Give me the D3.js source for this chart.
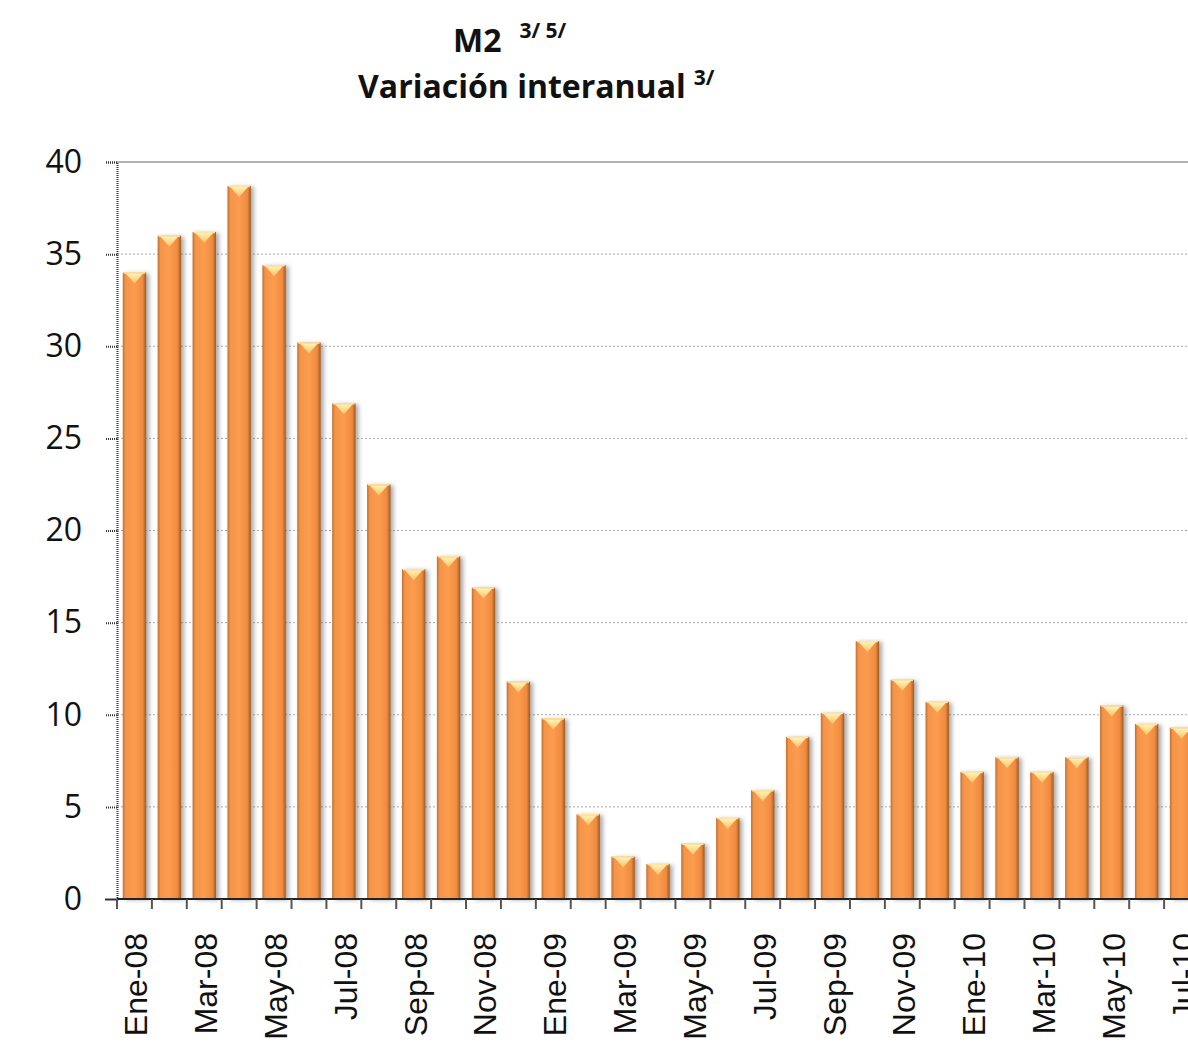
<!DOCTYPE html>
<html>
<head>
<meta charset="utf-8">
<script src="https://cdn.jsdelivr.net/npm/d3@7"></script>
<style>
  body { margin: 0; background: #fff; }
  text { font-family: "Open Sans", "DejaVu Sans", sans-serif; fill: #111; }
</style>
</head>
<body>
<script>
// Data

let months = ['Ene-08','Feb-08','Mar-08','Abr-08','May-08','Jun-08','Jul-08','Ago-08','Sep-08','Oct-08','Nov-08','Dic-08',
              'Ene-09','Feb-09','Mar-09','Abr-09','May-09','Jun-09','Jul-09','Ago-09','Sep-09','Oct-09','Nov-09','Dic-09',
              'Ene-10','Feb-10','Mar-10','Abr-10','May-10','Jun-10','Jul-10']

let values = [34.0, 36.0, 36.2, 38.7, 34.4, 30.2, 26.9, 22.5, 17.9, 18.6, 16.9, 11.8,
              9.8, 4.6, 2.3, 1.9, 3.0, 4.4, 5.9, 8.8, 10.1, 14.0, 11.9, 10.7,
              6.9, 7.7, 6.9, 7.7, 10.5, 9.5, 9.3]

let yTicks = [0, 5, 10, 15, 20, 25, 30, 35, 40]

// Every other month gets a label
let shownLabels = months.filter((m, i) => i % 2 === 0)

// Container sizing

let width = 1188
let height = 1047

let margin = {
    left: 117,
    top: 162,
    right: -11,
    bottom: 148
}

let chartWidth = width - margin.left - margin.right
let chartHeight = height - margin.top - margin.bottom

let svg = d3.select('body')
    .append('svg')
    .attr('width', width)
    .attr('height', height)

let defs = svg.append('defs')

let grad = defs.append('linearGradient')
    .attr('id', 'barGrad')
    .attr('x1', '0%').attr('x2', '100%')
    .attr('y1', '0%').attr('y2', '0%')
grad.append('stop').attr('offset', '0%').attr('stop-color', '#c0702c')
grad.append('stop').attr('offset', '12%').attr('stop-color', '#f5944a')
grad.append('stop').attr('offset', '50%').attr('stop-color', '#fb9c4e')
grad.append('stop').attr('offset', '85%').attr('stop-color', '#ef8b40')
grad.append('stop').attr('offset', '100%').attr('stop-color', '#a05a1d')

let capGrad = defs.append('linearGradient')
    .attr('id', 'capGrad')
    .attr('x1', '0%').attr('x2', '0%')
    .attr('y1', '0%').attr('y2', '100%')
capGrad.append('stop').attr('offset', '0%').attr('stop-color', '#fff3b8')
capGrad.append('stop').attr('offset', '100%').attr('stop-color', '#f9c062')

let shadow = defs.append('filter')
    .attr('id', 'shadow')
    .attr('x', '-30%').attr('y', '-10%')
    .attr('width', '160%').attr('height', '120%')
shadow.append('feDropShadow')
    .attr('dx', 3).attr('dy', 1)
    .attr('stdDeviation', 2.2)
    .attr('flood-color', '#555')
    .attr('flood-opacity', 0.5)

let chartGroup = svg.append('g')
    .attr('transform', `translate(${margin.left}, ${margin.top})`)

// Scales

let xScale = d3.scaleBand()
    .domain(months)
    .range([0, chartWidth])
    .paddingInner(0.33)
    .paddingOuter(0.165)

let yScale = d3.scaleLinear()
    .domain([0, 40])
    .range([chartHeight, 0])

// Gridlines
chartGroup.selectAll('.grid')
    .data(yTicks.filter(t => t > 0 && t < 40))
    .join('line')
    .attr('class', 'grid')
    .attr('x1', 0)
    .attr('x2', chartWidth)
    .attr('y1', d => yScale(d))
    .attr('y2', d => yScale(d))
    .attr('stroke', '#aaa')
    .attr('stroke-width', 1)
    .attr('stroke-dasharray', '2,2')

chartGroup.append('line')
    .attr('x1', 0).attr('x2', chartWidth)
    .attr('y1', yScale(40)).attr('y2', yScale(40))
    .attr('stroke', '#999')
    .attr('stroke-width', 1.5)

// Y axis
let yAxis = d3.axisLeft(yScale)
    .tickValues(yTicks)
    .tickSize(12)
    .tickPadding(23)

let yAxisG = chartGroup.append('g').call(yAxis)
yAxisG.select('.domain')
    .attr('stroke', '#333')
    .attr('stroke-width', 2)
    .attr('stroke-dasharray', '1,1')
yAxisG.selectAll('.tick line')
    .attr('stroke', '#333')
    .attr('stroke-width', 2)
    .attr('stroke-dasharray', '1,1')
yAxisG.selectAll('.tick text')
    .attr('font-size', 32)
    .style('font-family', '"Open Sans", sans-serif')
    .attr('fill', '#111')

// Bars
let barsGroup = chartGroup.selectAll('.bar')
    .data(values.map((v, i) => ({ month: months[i], value: v })))
    .join('g')
    .attr('class', 'bar')

barsGroup.append('rect')
    .attr('x', d => xScale(d.month))
    .attr('y', d => yScale(d.value))
    .attr('width', xScale.bandwidth())
    .attr('height', d => chartHeight - yScale(d.value))
    .attr('fill', 'url(#barGrad)')
    .attr('filter', 'url(#shadow)')

barsGroup.append('polygon')
    .attr('points', d => {
        let x0 = xScale(d.month)
        let w = xScale.bandwidth()
        let y0 = yScale(d.value)
        return `${x0 + 3},${y0 + 1} ${x0 + w - 3},${y0 + 1} ${x0 + w / 2},${y0 + 11}`
    })
    .attr('fill', 'url(#capGrad)')

barsGroup.append('line')
    .attr('x1', d => xScale(d.month) + 1)
    .attr('x2', d => xScale(d.month) + xScale.bandwidth() - 1)
    .attr('y1', d => yScale(d.value) + 0.5)
    .attr('y2', d => yScale(d.value) + 0.5)
    .attr('stroke', '#ffe3a0')
    .attr('stroke-width', 1.5)

// X axis: line, ticks at category boundaries, labels every other month
chartGroup.append('line')
    .attr('x1', 0).attr('x2', chartWidth)
    .attr('y1', chartHeight).attr('y2', chartHeight)
    .attr('stroke', '#222')
    .attr('stroke-width', 2)

chartGroup.selectAll('.xtick')
    .data(d3.range(months.length + 1))
    .join('line')
    .attr('class', 'xtick')
    .attr('x1', i => i * xScale.step())
    .attr('x2', i => i * xScale.step())
    .attr('y1', chartHeight)
    .attr('y2', chartHeight + 10)
    .attr('stroke', '#555')
    .attr('stroke-width', 2)

chartGroup.selectAll('.xlabel')
    .data(shownLabels)
    .join('text')
    .attr('class', 'xlabel')
    .attr('transform', d => `translate(${xScale(d) + xScale.bandwidth() / 2 + 13}, ${chartHeight + 34}) rotate(-90)`)
    .attr('text-anchor', 'end')
    .attr('font-size', 32)
    .style('font-family', '"Liberation Sans", Arial, sans-serif')
    .text(d => d)

// Title
let title = svg.append('text')
    .attr('x', 453)
    .attr('y', 52)
    .attr('font-weight', 'bold')
    .attr('font-size', 32)
title.append('tspan').text('M2')
title.append('tspan')
    .attr('dx', 18)
    .attr('dy', -14)
    .attr('font-size', 21)
    .text('3/ 5/')

let subtitle = svg.append('text')
    .attr('x', 358)
    .attr('y', 98)
    .attr('font-weight', 'bold')
    .attr('font-size', 32)
subtitle.append('tspan').text('Variación interanual')
subtitle.append('tspan')
    .attr('dx', 8)
    .attr('dy', -13)
    .attr('font-size', 21)
    .text('3/')
</script>
</body>
</html>
